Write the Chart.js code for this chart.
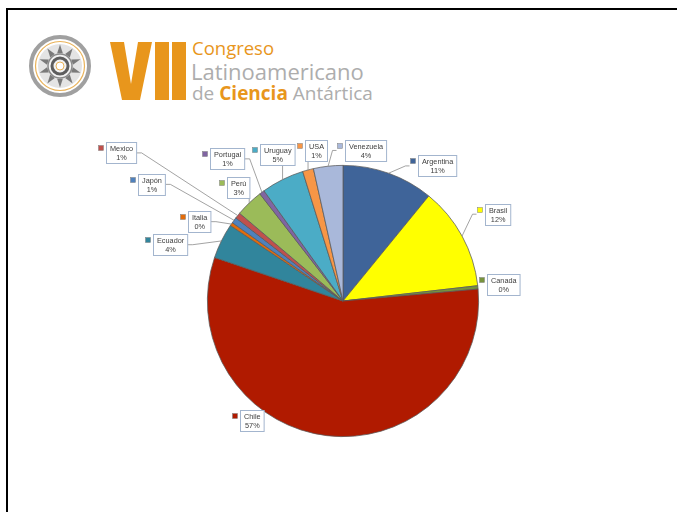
<!DOCTYPE html>
<html>
<head>
<meta charset="utf-8">
<script src="https://cdn.jsdelivr.net/npm/chart.js@4/dist/chart.umd.min.js"></script>
<style>
  html, body { margin: 0; padding: 0; background: #fff; }
  #slide { position: relative; width: 677px; height: 512px; overflow: hidden; }
  #frame { position: absolute; left: 6px; top: 8px; right: -10px; bottom: -10px;
           border-left: 2px solid #000; border-top: 2px solid #000; }
  #logo { position: absolute; left: 0; top: 0; }
  #chart { position: absolute; left: 0; top: 0; }
</style>
</head>
<body>
<div id="slide">
  <div id="frame"></div>
  <svg id="logo" width="400" height="120" xmlns="http://www.w3.org/2000/svg">
    <!-- emblem -->
    <circle cx="60" cy="66" r="29" fill="#fff" stroke="#a0a0a0" stroke-width="4"/>
    <circle cx="60" cy="66" r="24.5" fill="none" stroke="#eab35a" stroke-width="1.2"/>
    <circle cx="60" cy="66" r="22" fill="#e4e4e4"/>
    <g id="rays" fill="#7a7a7a"></g>
    <circle cx="60" cy="66" r="12" fill="#f2f2f2" stroke="#8a8a8a" stroke-width="1.5"/>
    <circle cx="60" cy="66" r="8" fill="none" stroke="#5e5e5e" stroke-width="3"/>
    <circle cx="60" cy="66" r="4" fill="#fff" stroke="#eab35a" stroke-width="1"/>
    <!-- VII -->
    <polygon points="110,42 124,42 131,84 138,42 152,42 140,100 122,100" fill="#e8961c"/>
    <rect x="155" y="42" width="14" height="58" fill="#e8961c"/>
    <rect x="172" y="42" width="14" height="58" fill="#e8961c"/>
    <text x="192" y="55" font-family="Open Sans, sans-serif" font-size="18.5" fill="#e8961c">Congreso</text>
    <text x="191" y="80" font-family="Open Sans, sans-serif" font-size="22" fill="#adadad">Latinoamericano</text>
    <text x="192" y="100" font-family="Open Sans, sans-serif" font-size="19" fill="#adadad">de <tspan font-weight="bold" fill="#e8961c">Ciencia</tspan> Antártica</text>
  </svg>
  <canvas id="chart" width="677" height="512"></canvas>
</div>
<script>
// emblem rays
(function () {
  const g = document.getElementById('rays');
  for (let k = 0; k < 10; k++) {
    const a = k * Math.PI / 5 - Math.PI / 2;
    const b1 = a - 0.22, b2 = a + 0.22;
    const p = [
      [60 + Math.cos(b1) * 13, 66 + Math.sin(b1) * 13],
      [60 + Math.cos(a) * 21.5, 66 + Math.sin(a) * 21.5],
      [60 + Math.cos(b2) * 13, 66 + Math.sin(b2) * 13]
    ];
    const poly = document.createElementNS('http://www.w3.org/2000/svg', 'polygon');
    poly.setAttribute('points', p.map(q => q.join(',')).join(' '));
    g.appendChild(poly);
  }
})();

// Participantes por país (%)
const countries = ['Argentina', 'Brasil', 'Canada', 'Chile', 'Ecuador', 'Italia', 'Japón',
                   'Mexico', 'Perú', 'Portugal', 'Uruguay', 'USA', 'Venezuela'];
const shares = [10.9, 12.3, 0.4, 56.6, 4.2, 0.4, 0.7, 0.7, 3.3, 0.6, 5.1, 1.3, 3.5];

const sliceColors = ['#3f6499', '#ffff00', '#77933c', '#b01a00', '#31859c', '#e46c0a', '#4f81bd',
                     '#c0504d', '#9bbb59', '#8064a2', '#4bacc6', '#f79646', '#a9b8da'];

// label box centre relative to pie centre, in radii; third entry = leader line
const calloutPlacement = [
  [0.695, -0.996, true], [1.140, -0.640, true], [1.180, -0.118, false], [-0.669, 0.882, false],
  [-1.272, -0.415, true], [-1.059, -0.585, true], [-1.412, -0.860, true], [-1.636, -1.092, true],
  [-0.776, -0.838, true], [-0.857, -1.048, true], [-0.482, -1.081, true], [-0.199, -1.110, true],
  [0.169, -1.110, true]
];

const calloutPlugin = {
  id: 'callouts',
  afterDatasetsDraw(chart) {
    const ctx = chart.ctx;
    const meta = chart.getDatasetMeta(0);
    const values = chart.data.datasets[0].data;
    const total = values.reduce((a, b) => a + b, 0);
    ctx.save();
    ctx.font = '7.3px "Liberation Sans", Arial, sans-serif';
    ctx.textAlign = 'center';
    ctx.textBaseline = 'middle';
    meta.data.forEach((arc, i) => {
      const { x, y, startAngle, endAngle, outerRadius } =
        arc.getProps(['x', 'y', 'startAngle', 'endAngle', 'outerRadius'], true);
      const mid = (startAngle + endAngle) / 2;
      const px = x + Math.cos(mid) * outerRadius;
      const py = y + Math.sin(mid) * outerRadius;
      const [fx, fy, leader] = calloutPlacement[i];
      const cx = x + fx * outerRadius;
      const cy = y + fy * outerRadius;
      const name = countries[i];
      const pct = Math.round(values[i] / total * 100) + '%';
      const w = Math.max(ctx.measureText(name).width, ctx.measureText(pct).width) + 7;
      const h = 21;
      const left = Math.round(cx - w / 2) + 0.5;
      const top = Math.round(cy - h / 2) + 0.5;
      const right = left + w, bottom = top + h;
      const keyLeft = left - 8;

      if (leader) {
        ctx.strokeStyle = '#8c8c8c';
        ctx.lineWidth = 0.8;
        ctx.beginPath();
        if (px >= keyLeft - 4 && px <= right + 4) {
          const ax = Math.min(Math.max(px, left), right);
          ctx.moveTo(ax, py > bottom ? bottom : top);
          ctx.lineTo(px, py);
        } else if (px < keyLeft) {
          ctx.moveTo(keyLeft - 1, cy);
          ctx.lineTo(keyLeft - 5, cy);
          ctx.lineTo(px, py);
        } else {
          ctx.moveTo(right, cy);
          ctx.lineTo(right + 5, cy);
          ctx.lineTo(px, py);
        }
        ctx.stroke();
      }

      ctx.fillStyle = '#fff';
      ctx.fillRect(left, top, w, h);
      ctx.strokeStyle = '#a3b5ce';
      ctx.lineWidth = 1;
      ctx.strokeRect(left, top, w, h);

      // legend key
      ctx.fillStyle = sliceColors[i];
      ctx.fillRect(keyLeft, top + 3, 5, 5);
      ctx.strokeStyle = '#7f7f7f';
      ctx.lineWidth = 0.5;
      ctx.strokeRect(keyLeft, top + 3, 5, 5);

      ctx.fillStyle = '#404040';
      ctx.fillText(name, left + w / 2, top + 6);
      ctx.fillText(pct, left + w / 2, top + 15);
    });
    ctx.restore();
  }
};

new Chart(document.getElementById('chart'), {
  type: 'pie',
  data: {
    labels: countries,
    datasets: [{
      data: shares,
      backgroundColor: sliceColors,
      borderColor: '#5a5a5a',
      borderWidth: 0.75
    }]
  },
  options: {
    responsive: false,
    animation: false,
    devicePixelRatio: 1,
    layout: { padding: { left: 207, top: 165, right: 198, bottom: 75 } },
    plugins: {
      legend: { display: false },
      tooltip: { enabled: false }
    }
  },
  plugins: [calloutPlugin]
});
</script>
</body>
</html>
